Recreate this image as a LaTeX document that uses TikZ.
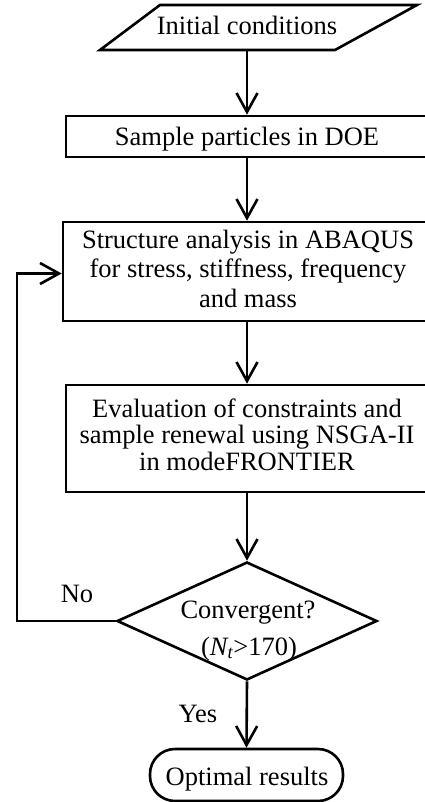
\documentclass[tikz,border=0pt]{standalone}
\usepackage{fontspec}
\setmainfont{Liberation Serif}
\usetikzlibrary{arrows.meta,shapes.geometric}
\begin{document}
\begin{tikzpicture}[x=1pt,y=-1pt,
  line width=2.6pt,
  every node/.style={font=\fontsize{26.5}{26.5}\selectfont, inner sep=0pt},
  txt/.style={anchor=base},
  box/.style={draw, rectangle},
  arr/.style={-{Straight Barb[length=19pt,width=21pt]}}
]
\useasboundingbox (0,0) rectangle (425,802);
\clip (0,0) rectangle (425,802);
% parallelogram
\draw (160,5) -- (417,5) -- (335,50) -- (100,50) -- cycle;
\node[minimum height=45pt, minimum width=10pt] (ic) at (247,27.5) {};
\node[txt] (ict) at (247,35) {Initial conditions};
% boxes
\node[box, minimum width=362pt, minimum height=41pt] (b2) at (247,136.5) {};
\node[txt] (b2t) at (247,146) {Sample particles in DOE};
\node[box, minimum width=368pt, minimum height=99pt] (b3) at (247,271.5) {};
\node[txt] (b3a) at (248,248) {Structure analysis in ABAQUS};
\node[txt] (b3b) at (248,277.5) {for stress, stiffness, frequency};
\node[txt] (b3c) at (248,307) {and mass};
\node[box, minimum width=362pt, minimum height=107pt] (b4) at (247,438.5) {};
\node[txt] (b4a) at (247,417) {Evaluation of constraints and};
\node[txt] (b4b) at (247,443.5) {sample renewal using NSGA-II};
\node[txt] (b4c) at (247,470) {in modeFRONTIER};
% decision
\node[draw, diamond, minimum width=260pt, minimum height=118pt] (dia) at (247,621) {};
\node[txt] (diaa) at (248,618) {Convergent?};
\node[txt] (diab) at (249,655) {(\textit{N\textsubscript{t}}>170)};
% terminal
\node[draw, rounded corners=25pt, minimum width=193pt, minimum height=52pt] (end) at (246.5,775) {};
\node[txt] (endt) at (247,785) {Optimal results};
\coordinate (fb) at (17,621);
\node[txt] (no) at (77,602) {No};
\node[txt] (yes) at (198,722) {Yes};
\draw[arr] (ic.south) -- (b2.north);
\draw[arr] (b2.south) -- (b3.north);
\draw[arr] (b3.south) -- (b4.north);
\draw[arr] (b4.south) -- (dia.north);
\draw[arr] (dia.south) -- (end.north);
\draw[arr] (dia.west) -- (fb) |- ([yshift=-2pt]b3.west);
\end{tikzpicture}
\end{document}
